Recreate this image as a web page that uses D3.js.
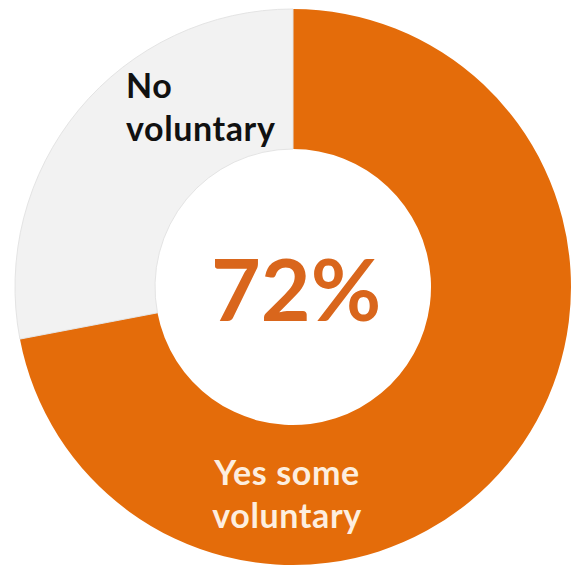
<!DOCTYPE html>
<html lang="en">
<head>
  <meta charset="UTF-8">
  <title>voluntary donut</title>
  <script src="https://cdn.jsdelivr.net/npm/d3@7"></script>
  <style type="text/css">
    body { margin:0; background:#fff; }
    svg { display:block; }
    text { font-family: Lato, "Open Sans", sans-serif; font-weight:bold; }
  </style>
</head>
<body>
<svg id="chart" width="573" height="579"></svg>
<script>

  // data
  const categories = ['Yes some voluntary', 'No voluntary'];
  const values = [72, 28];
  const colors = ['#e46c0a', '#f2f2f2'];
  const labelLines = [['Yes some', 'voluntary'], ['No', 'voluntary']];
  const centerLabel = '72%';

  const cx = 293, cy = 287, rOuter = 278, rInner = 138;

  const svg = d3.select('#chart');
  const g = svg.append('g').attr('transform', 'translate(' + cx + ',' + cy + ')');

  const pie = d3.pie().sort(null).value(d => d);
  const arc = d3.arc().innerRadius(rInner).outerRadius(rOuter);
  const slices = pie(values);

  g.selectAll('path').data(slices).enter().append('path')
    .attr('d', arc)
    .attr('fill', (d,i) => colors[i])
    .attr('stroke', (d,i) => i === 1 ? '#e4e4e4' : 'none')
    .attr('stroke-width', 1);

  // slice labels (placed the way the office chart put them)
  const labelPos = [
    {x: -6, y: 198, anchor: 'middle', fill: '#fdeedf'},
    {x: -167, y: -189, anchor: 'start', fill: '#111'}
  ];
  labelLines.forEach((lines, i) => {
    const p = labelPos[i];
    const t = g.append('text')
      .attr('x', p.x).attr('y', p.y)
      .attr('text-anchor', p.anchor)
      .attr('fill', p.fill)
      .style('font-size', '34px')
      .style('letter-spacing', '0.6px');
    lines.forEach((ln, k) => {
      t.append('tspan').attr('x', p.x).attr('dy', k === 0 ? 0 : 43).text(ln);
    });
  });

  g.append('text')
    .attr('x', 3).attr('y', 34)
    .attr('text-anchor', 'middle')
    .attr('fill', '#d9661c')
    .style('font-size', '86px')
    .text(centerLabel);

</script>
</body>
</html>
